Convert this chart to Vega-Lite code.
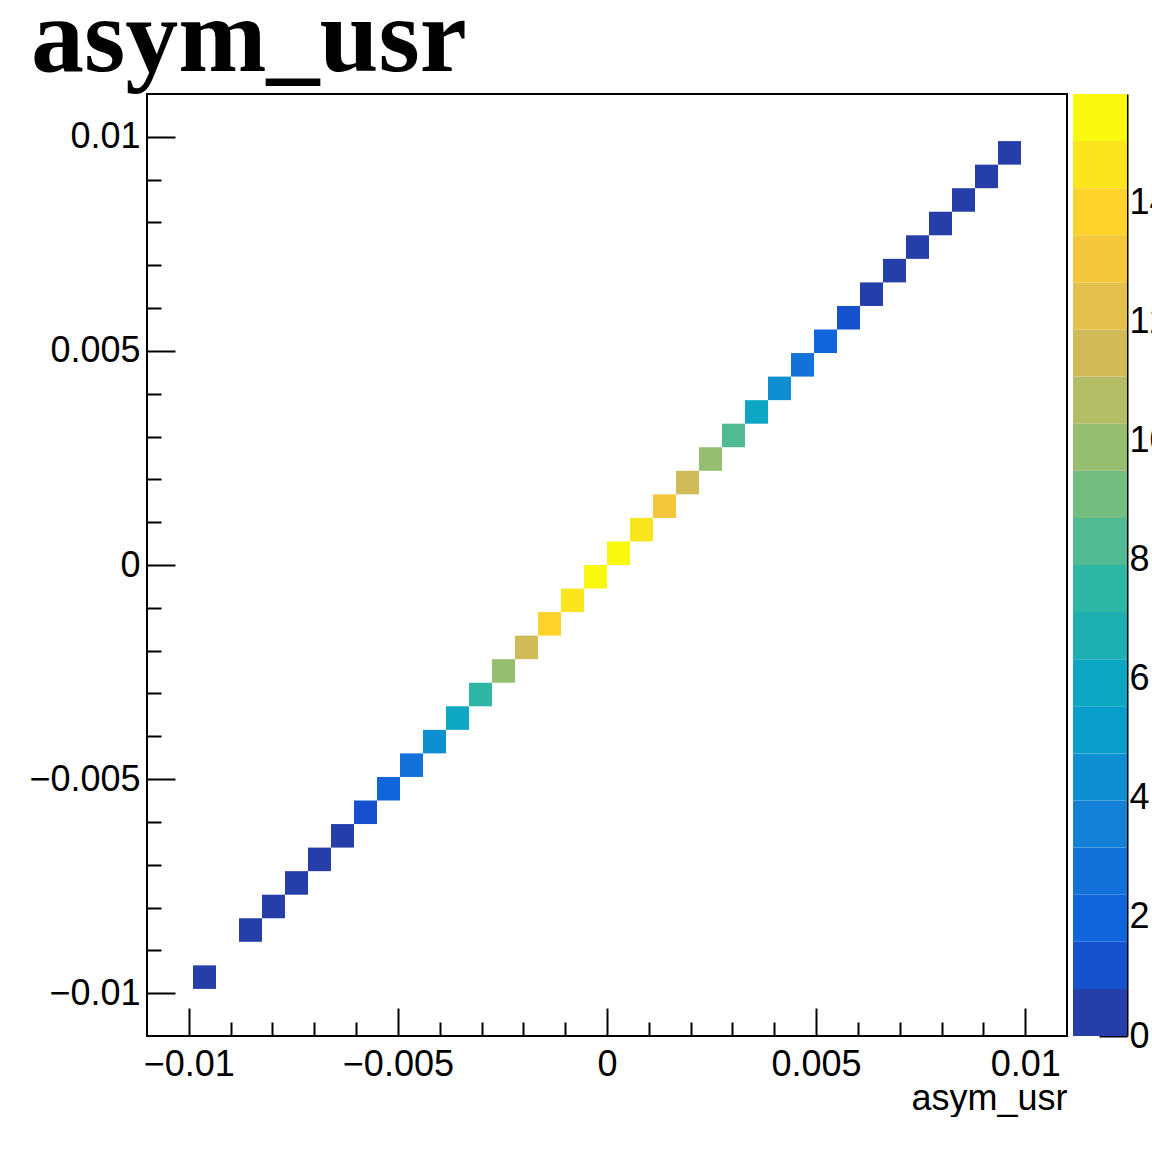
{
  "$schema": "https://vega.github.io/schema/vega-lite/v6.json",
  "padding": {"left": 27, "top": -14, "right": 0, "bottom": 0},
  "background": "white",
  "title": {"text": "asym_usr", "anchor": "start", "frame": "bounds", "font": "Liberation Serif", "fontSize": 106, "fontWeight": "bold", "color": "black", "offset": 0, "dx": 3},
  "datasets": {
    "cells": [
      {"bin": 2, "x0": -0.0099, "x1": -0.00935, "y0": -0.0099, "y1": -0.00935, "z": 0.4},
      {"bin": 4, "x0": -0.0088, "x1": -0.00825, "y0": -0.0088, "y1": -0.00825, "z": 0.4},
      {"bin": 5, "x0": -0.00825, "x1": -0.0077, "y0": -0.00825, "y1": -0.0077, "z": 0.4},
      {"bin": 6, "x0": -0.0077, "x1": -0.00715, "y0": -0.0077, "y1": -0.00715, "z": 0.4},
      {"bin": 7, "x0": -0.00715, "x1": -0.0066, "y0": -0.00715, "y1": -0.0066, "z": 0.4},
      {"bin": 8, "x0": -0.0066, "x1": -0.00605, "y0": -0.0066, "y1": -0.00605, "z": 0.4},
      {"bin": 9, "x0": -0.00605, "x1": -0.0055, "y0": -0.00605, "y1": -0.0055, "z": 1.19},
      {"bin": 10, "x0": -0.0055, "x1": -0.00495, "y0": -0.0055, "y1": -0.00495, "z": 1.98},
      {"bin": 11, "x0": -0.00495, "x1": -0.0044, "y0": -0.00495, "y1": -0.0044, "z": 2.77},
      {"bin": 12, "x0": -0.0044, "x1": -0.00385, "y0": -0.0044, "y1": -0.00385, "z": 4.35},
      {"bin": 13, "x0": -0.00385, "x1": -0.0033, "y0": -0.00385, "y1": -0.0033, "z": 5.94},
      {"bin": 14, "x0": -0.0033, "x1": -0.00275, "y0": -0.0033, "y1": -0.00275, "z": 7.52},
      {"bin": 15, "x0": -0.00275, "x1": -0.0022, "y0": -0.00275, "y1": -0.0022, "z": 9.89},
      {"bin": 16, "x0": -0.0022, "x1": -0.00165, "y0": -0.0022, "y1": -0.00165, "z": 11.48},
      {"bin": 17, "x0": -0.00165, "x1": -0.0011, "y0": -0.00165, "y1": -0.0011, "z": 13.85},
      {"bin": 18, "x0": -0.0011, "x1": -0.00055, "y0": -0.0011, "y1": -0.00055, "z": 14.64},
      {"bin": 19, "x0": -0.00055, "x1": 0, "y0": -0.00055, "y1": 0, "z": 15.43},
      {"bin": 20, "x0": 0, "x1": 0.00055, "y0": 0, "y1": 0.00055, "z": 15.43},
      {"bin": 21, "x0": 0.00055, "x1": 0.0011, "y0": 0.00055, "y1": 0.0011, "z": 14.64},
      {"bin": 22, "x0": 0.0011, "x1": 0.00165, "y0": 0.0011, "y1": 0.00165, "z": 13.06},
      {"bin": 23, "x0": 0.00165, "x1": 0.0022, "y0": 0.00165, "y1": 0.0022, "z": 11.48},
      {"bin": 24, "x0": 0.0022, "x1": 0.00275, "y0": 0.0022, "y1": 0.00275, "z": 9.89},
      {"bin": 25, "x0": 0.00275, "x1": 0.0033, "y0": 0.00275, "y1": 0.0033, "z": 8.31},
      {"bin": 26, "x0": 0.0033, "x1": 0.00385, "y0": 0.0033, "y1": 0.00385, "z": 5.94},
      {"bin": 27, "x0": 0.00385, "x1": 0.0044, "y0": 0.00385, "y1": 0.0044, "z": 4.35},
      {"bin": 28, "x0": 0.0044, "x1": 0.00495, "y0": 0.0044, "y1": 0.00495, "z": 2.77},
      {"bin": 29, "x0": 0.00495, "x1": 0.0055, "y0": 0.00495, "y1": 0.0055, "z": 1.98},
      {"bin": 30, "x0": 0.0055, "x1": 0.00605, "y0": 0.0055, "y1": 0.00605, "z": 1.19},
      {"bin": 31, "x0": 0.00605, "x1": 0.0066, "y0": 0.00605, "y1": 0.0066, "z": 0.4},
      {"bin": 32, "x0": 0.0066, "x1": 0.00715, "y0": 0.0066, "y1": 0.00715, "z": 0.4},
      {"bin": 33, "x0": 0.00715, "x1": 0.0077, "y0": 0.00715, "y1": 0.0077, "z": 0.4},
      {"bin": 34, "x0": 0.0077, "x1": 0.00825, "y0": 0.0077, "y1": 0.00825, "z": 0.4},
      {"bin": 35, "x0": 0.00825, "x1": 0.0088, "y0": 0.00825, "y1": 0.0088, "z": 0.4},
      {"bin": 36, "x0": 0.0088, "x1": 0.00935, "y0": 0.0088, "y1": 0.00935, "z": 0.4},
      {"bin": 37, "x0": 0.00935, "x1": 0.0099, "y0": 0.00935, "y1": 0.0099, "z": 0.4}
    ],
    "palette": [
      {"z0": 0, "z1": 0.7915, "z": 0.396},
      {"z0": 0.7915, "z1": 1.583, "z": 1.187},
      {"z0": 1.583, "z1": 2.3745, "z": 1.979},
      {"z0": 2.3745, "z1": 3.166, "z": 2.77},
      {"z0": 3.166, "z1": 3.9575, "z": 3.562},
      {"z0": 3.9575, "z1": 4.749, "z": 4.353},
      {"z0": 4.749, "z1": 5.5405, "z": 5.145},
      {"z0": 5.5405, "z1": 6.332, "z": 5.936},
      {"z0": 6.332, "z1": 7.1235, "z": 6.728},
      {"z0": 7.1235, "z1": 7.915, "z": 7.519},
      {"z0": 7.915, "z1": 8.7065, "z": 8.311},
      {"z0": 8.7065, "z1": 9.498, "z": 9.102},
      {"z0": 9.498, "z1": 10.2895, "z": 9.894},
      {"z0": 10.2895, "z1": 11.081, "z": 10.685},
      {"z0": 11.081, "z1": 11.8725, "z": 11.477},
      {"z0": 11.8725, "z1": 12.664, "z": 12.268},
      {"z0": 12.664, "z1": 13.4555, "z": 13.06},
      {"z0": 13.4555, "z1": 14.247, "z": 13.851},
      {"z0": 14.247, "z1": 15.0385, "z": 14.643},
      {"z0": 15.0385, "z1": 15.83, "z": 15.434}
    ]
  },
  "config": {
    "font": "Liberation Sans",
    "axis": {"grid": false, "labelFont": "Liberation Sans", "labelFontSize": 36, "labelColor": "black", "tickColor": "black", "tickWidth": 2, "domainColor": "black", "domainWidth": 2, "titleFont": "Liberation Sans", "titleFontSize": 36, "titleFontWeight": "normal", "titleColor": "black"}
  },
  "spacing": 5,
  "hconcat": [
    {
      "width": 920,
      "height": 942,
      "view": {"stroke": "black", "strokeWidth": 2},
      "data": {"name": "cells"},
      "mark": {"type": "rect"},
      "encoding": {
        "x": {"field": "x0", "type": "quantitative", "scale": {"domain": [-0.011, 0.011], "nice": false, "zero": false},
          "axis": {"values": [-0.01, -0.009, -0.008, -0.007, -0.006, -0.005, -0.004, -0.003, -0.002, -0.001, 0, 0.001, 0.002, 0.003, 0.004, 0.005, 0.006, 0.007, 0.008, 0.009, 0.01],
            "domain": false,
            "tickSize": {"condition": {"test": "abs(round(datum.value*1000)) % 5 == 0", "value": -28}, "value": -14},
            "labelExpr": "abs(round(datum.value*1000)) % 5 == 0 ? (datum.value < -0.0000001 ? '−' : '') + format(abs(datum.value), '~g') : ''",
            "labelPadding": 39, "labelFlush": false, "labelOverlap": false,
            "title": "asym_usr", "titleAnchor": "end", "titlePadding": -15}},
        "x2": {"field": "x1"},
        "y": {"field": "y0", "type": "quantitative", "scale": {"domain": [-0.011, 0.011], "nice": false, "zero": false},
          "axis": {"values": [-0.01, -0.009, -0.008, -0.007, -0.006, -0.005, -0.004, -0.003, -0.002, -0.001, 0, 0.001, 0.002, 0.003, 0.004, 0.005, 0.006, 0.007, 0.008, 0.009, 0.01],
            "domain": false,
            "tickSize": {"condition": {"test": "abs(round(datum.value*1000)) % 5 == 0", "value": -28}, "value": -14},
            "labelExpr": "abs(round(datum.value*1000)) % 5 == 0 ? (datum.value < -0.0000001 ? '−' : '') + format(abs(datum.value), '~g') : ''",
            "labelPadding": 35, "labelFlush": false, "labelOverlap": false, "title": null}},
        "y2": {"field": "y1"},
        "color": {"field": "z", "type": "quantitative", "legend": null,
          "scale": {"type": "quantize", "domain": [0, 15.83], "nice": false, "zero": false,
            "range": ["#263ea8", "#1652cd", "#1064dc", "#1272d9", "#1481d6", "#0e8fd1", "#099dcc", "#0da7c3", "#1eafb3", "#2eb7a4", "#52ba92", "#74bd81", "#95be71", "#b3bd65", "#d1bb59", "#e2c04b", "#f4c63b", "#fdd22b", "#fbe61d", "#f9f90f"]}}
      }
    },
    {
      "width": 54,
      "height": 942,
      "view": {"stroke": null},
      "data": {"name": "palette"},
      "mark": {"type": "rect"},
      "encoding": {
        "y": {"field": "z0", "type": "quantitative", "scale": {"domain": [0, 15.83], "nice": false, "zero": false},
          "axis": {"orient": "right", "values": [0, 2, 4, 6, 8, 10, 12, 14], "tickSize": -28, "labelPadding": 30, "labelFlush": false, "labelOverlap": false, "title": null, "domain": true}},
        "y2": {"field": "z1"},
        "color": {"field": "z", "type": "quantitative", "legend": null,
          "scale": {"type": "quantize", "domain": [0, 15.83], "nice": false, "zero": false,
            "range": ["#263ea8", "#1652cd", "#1064dc", "#1272d9", "#1481d6", "#0e8fd1", "#099dcc", "#0da7c3", "#1eafb3", "#2eb7a4", "#52ba92", "#74bd81", "#95be71", "#b3bd65", "#d1bb59", "#e2c04b", "#f4c63b", "#fdd22b", "#fbe61d", "#f9f90f"]}}
      }
    }
  ]
}
